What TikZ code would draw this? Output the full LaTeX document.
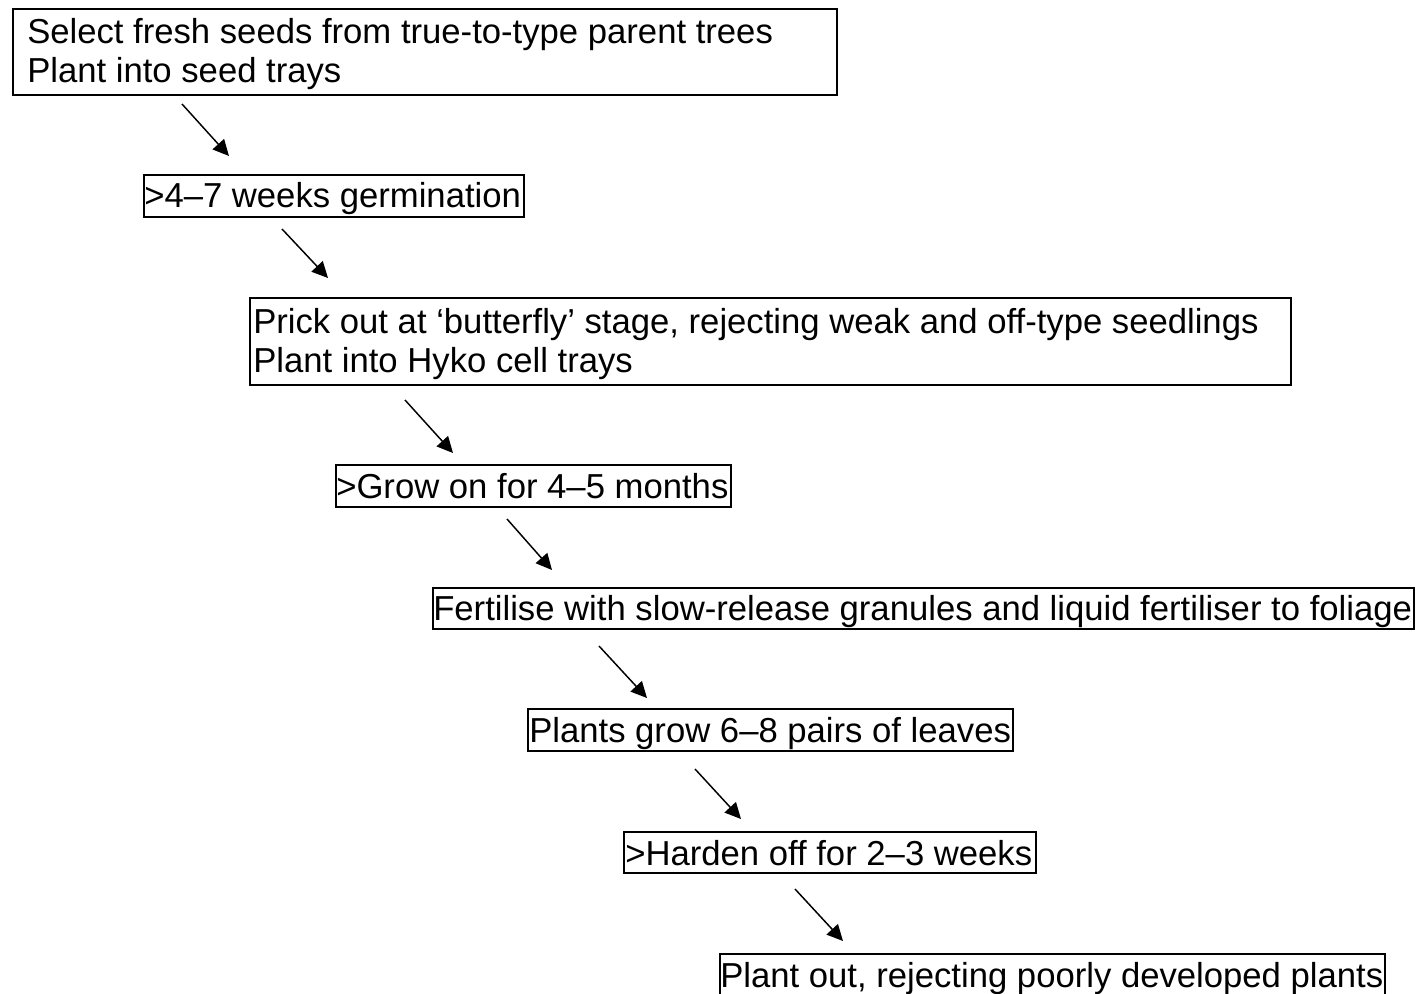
\documentclass[tikz,border=0pt]{standalone}
\usepackage{fontspec}
\setmainfont{Liberation Sans}
\usetikzlibrary{arrows.meta}
\begin{document}
\begin{tikzpicture}[x=0.75pt,y=-0.75pt,
  stepbox/.style={draw=black,line width=1.5pt,rectangle,inner sep=0pt,anchor=north west},
  steptext/.style={anchor=base west,inner sep=0pt,align=left,font=\fontsize{26}{29.3}\selectfont},
  flow/.style={line width=1.1pt,-{Triangle[length=12pt,width=11.5pt]}}]
\useasboundingbox (0,0) rectangle (1416,993);
\node[stepbox,minimum width=824*0.75pt,minimum height=86*0.75pt] (b1) at (12,8) {};
\node[stepbox,minimum width=380*0.75pt,minimum height=42*0.75pt] (b2) at (143,174) {};
\node[stepbox,minimum width=1041*0.75pt,minimum height=87*0.75pt] (b3) at (249,297) {};
\node[stepbox,minimum width=395*0.75pt,minimum height=42*0.75pt] (b4) at (335,464) {};
\node[stepbox,minimum width=981*0.75pt,minimum height=41*0.75pt] (b5) at (432,587) {};
\node[stepbox,minimum width=485*0.75pt,minimum height=42*0.75pt] (b6) at (527,708) {};
\node[stepbox,minimum width=412*0.75pt,minimum height=41*0.75pt] (b7) at (623,831) {};
\node[stepbox,minimum width=665*0.75pt,minimum height=50*0.75pt] (b8) at (719,953) {};
\node[steptext] (t1a) at (27,43) {Select fresh seeds from true-to-type parent trees};
\node[steptext] (t1b) at (27,82) {Plant into seed trays};
\node[steptext] (t2) at (144,207) {>4–7 weeks germination};
\node[steptext] (t3a) at (253,333) {Prick out at ‘butterfly’ stage, rejecting weak and off-type seedlings};
\node[steptext] (t3b) at (253,372) {Plant into Hyko cell trays};
\node[steptext] (t4) at (336,498) {>Grow on for 4–5 months};
\node[steptext] (t5) at (433,620) {Fertilise with slow-release granules and liquid fertiliser to foliage};
\node[steptext] (t6) at (529,742) {Plants grow 6–8 pairs of leaves};
\node[steptext] (t7) at (625,865) {>Harden off for 2–3 weeks};
\node[steptext] (t8) at (720,987) {Plant out, rejecting poorly developed plants};
\coordinate (s1) at (182,104); \coordinate (e1) at (229,156);
\coordinate (s2) at (282,229); \coordinate (e2) at (328,278);
\coordinate (s3) at (405,400); \coordinate (e3) at (453,453);
\coordinate (s4) at (507,519); \coordinate (e4) at (552,570);
\coordinate (s5) at (599,646); \coordinate (e5) at (647,698);
\coordinate (s6) at (695,769); \coordinate (e6) at (741,819);
\coordinate (s7) at (795,889); \coordinate (e7) at (843,941);
\foreach \i in {1,...,7} \draw[flow] (s\i) -- (e\i);
\end{tikzpicture}
\end{document}
